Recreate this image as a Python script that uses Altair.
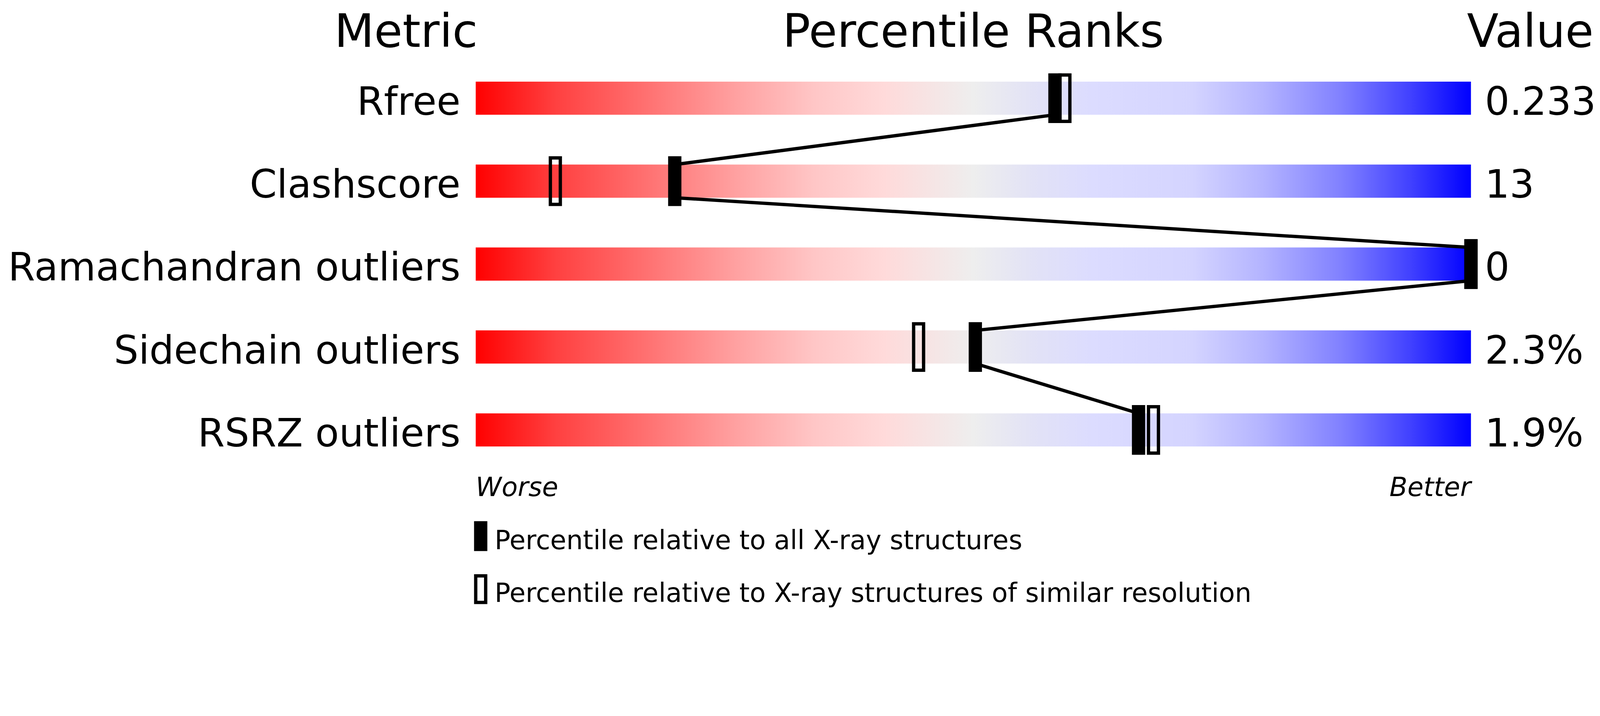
import altair as alt
import pandas as pd

# ---- data ----
metrics = ["Rfree", "Clashscore", "Ramachandran outliers", "Sidechain outliers", "RSRZ outliers"]
value_labels = ["0.233", "13", "0", "2.3%", "1.9%"]
pct_all = [58.2, 20.0, 100.0, 50.2, 66.6]        # percentile vs all X-ray structures (filled)
pct_similar = [59.2, 8.0, 100.0, 44.5, 68.1]     # percentile vs similar resolution (hollow)
headers = ["Metric", "Percentile Ranks", "Value"]
scale_ends = ["Worse", "Better"]
legend_labels = [
    "Percentile relative to all X-ray structures",
    "Percentile relative to X-ray structures of similar resolution",
]

# ---- layout ----
# the browser viewport is 4096 css px wide; everything is laid out in
# reference-image pixels and scaled by S so the page matches the reference.
S = 4096.0 / 4823.0
W, H = 4080, 1800
MARGIN = 8.0
BAR_X0 = 1434.0       # reference px of 0th percentile
PX_PER_PCT = 30.0     # reference px per percentile
ROW_Y0 = 296.0        # reference px of first row centre
ROW_STEP = 250.0      # reference px between rows
FONT = "DejaVu Sans"

xs = alt.Scale(domain=[(MARGIN / S - BAR_X0) / PX_PER_PCT, ((W + MARGIN) / S - BAR_X0) / PX_PER_PCT],
               range=[0, W], nice=False, zero=False)
ys = alt.Scale(domain=[(MARGIN / S - ROW_Y0) / ROW_STEP, ((H + MARGIN) / S - ROW_Y0) / ROW_STEP],
               range=[0, H], nice=False, zero=False)

LINE_W = 10 * S

rows = pd.DataFrame({
    "metric": metrics,
    "value": value_labels,
    "row": list(range(len(metrics))),
    "pall": pct_all,
    "psim": pct_similar,
})

segs = pd.DataFrame({
    "xa": pct_all[:-1],
    "xb": pct_all[1:],
    "ra": list(range(len(metrics) - 1)),
    "rb": list(range(1, len(metrics))),
})

gradient = alt.Gradient(
    gradient="linear",
    stops=[
        alt.GradientStop(color="#ff0000", offset=0.0),
        alt.GradientStop(color="#ff4040", offset=0.08),
        alt.GradientStop(color="#ff7070", offset=0.17),
        alt.GradientStop(color="#ffa0a0", offset=0.26),
        alt.GradientStop(color="#ffc6c6", offset=0.34),
        alt.GradientStop(color="#ffdada", offset=0.41),
        alt.GradientStop(color="#eeeeee", offset=0.5),
        alt.GradientStop(color="#e2e2f6", offset=0.56),
        alt.GradientStop(color="#dcdcff", offset=0.62),
        alt.GradientStop(color="#d4d4ff", offset=0.72),
        alt.GradientStop(color="#b4b4ff", offset=0.79),
        alt.GradientStop(color="#8080ff", offset=0.87),
        alt.GradientStop(color="#4040ff", offset=0.94),
        alt.GradientStop(color="#0000ff", offset=1.0),
    ],
    x1=0, x2=1, y1=0, y2=0,
)

bars = alt.Chart(rows).transform_calculate(
    lo="0", hi="100", top="datum.row - 0.2", bot="datum.row + 0.2"
).mark_rect(fill=gradient).encode(
    x=alt.X("lo:Q", scale=xs, axis=None),
    x2="hi:Q",
    y=alt.Y("top:Q", scale=ys, axis=None),
    y2="bot:Q",
)

links = alt.Chart(segs).transform_calculate(
    ya="datum.ra + 0.2", yb="datum.rb - 0.2"
).mark_rule(color="black", strokeWidth=LINE_W, strokeCap="butt").encode(
    x=alt.X("xa:Q", scale=xs, axis=None),
    x2="xb:Q",
    y=alt.Y("ya:Q", scale=ys, axis=None),
    y2="yb:Q",
)

hollow = alt.Chart(rows).transform_calculate(
    l="datum.psim - 0.5", r="datum.psim + 0.5",
    t="datum.row - 0.28", b="datum.row + 0.28"
).mark_rect(fillOpacity=0, stroke="black", strokeWidth=LINE_W).encode(
    x=alt.X("l:Q", scale=xs, axis=None), x2="r:Q",
    y=alt.Y("t:Q", scale=ys, axis=None), y2="b:Q",
)

filled = alt.Chart(rows).transform_calculate(
    l="datum.pall - 0.6667", r="datum.pall + 0.6667",
    t="datum.row - 0.3", b="datum.row + 0.3"
).mark_rect(color="black").encode(
    x=alt.X("l:Q", scale=xs, axis=None), x2="r:Q",
    y=alt.Y("t:Q", scale=ys, axis=None), y2="b:Q",
)

row_labels = alt.Chart(rows).transform_calculate(
    x="-1.533", y="datum.row + 0.2"
).mark_text(align="right", baseline="alphabetic", font=FONT, fontSize=117 * S, color="black").encode(
    x=alt.X("x:Q", scale=xs, axis=None),
    y=alt.Y("y:Q", scale=ys, axis=None),
    text="metric:N",
)

val_labels = alt.Chart(rows).transform_calculate(
    x="101.4", y="datum.row + 0.2"
).mark_text(align="left", baseline="alphabetic", font=FONT, fontSize=117 * S, color="black").encode(
    x=alt.X("x:Q", scale=xs, axis=None),
    y=alt.Y("y:Q", scale=ys, axis=None),
    text="value:N",
)


def text_layer(df, align, size, style="normal"):
    return alt.Chart(df).mark_text(
        align=align, baseline="alphabetic", font=FONT, fontSize=size * S,
        fontStyle=style, color="black"
    ).encode(
        x=alt.X("x:Q", scale=xs, axis=None),
        y=alt.Y("y:Q", scale=ys, axis=None),
        text="text:N",
    )


hdr = pd.DataFrame({"text": headers, "x": [0.2, 50.0, 99.6], "y": [-0.62] * 3})
hdr_metric = text_layer(hdr.iloc[[0]], "right", 139)
hdr_pct = text_layer(hdr.iloc[[1]], "center", 139)
hdr_val = text_layer(hdr.iloc[[2]], "left", 139)

ends = pd.DataFrame({"text": scale_ends, "x": [0.0, 100.0], "y": [4.796, 4.796]})
worse = text_layer(ends.iloc[[0]], "left", 79, "italic")
better = text_layer(ends.iloc[[1]], "right", 79, "italic")

leg_txt = pd.DataFrame({"text": legend_labels, "x": [1.9, 1.9], "y": [5.44, 6.076]})
legend_text = text_layer(leg_txt, "left", 79)

leg_filled = alt.Chart(pd.DataFrame({"l": [-0.1667], "r": [1.1667], "t": [5.1], "b": [5.46]})).mark_rect(
    color="black"
).encode(
    x=alt.X("l:Q", scale=xs, axis=None), x2="r:Q",
    y=alt.Y("t:Q", scale=ys, axis=None), y2="b:Q",
)
leg_hollow = alt.Chart(pd.DataFrame({"l": [0.0], "r": [1.0], "t": [5.76], "b": [6.08]})).mark_rect(
    fillOpacity=0, stroke="black", strokeWidth=LINE_W
).encode(
    x=alt.X("l:Q", scale=xs, axis=None), x2="r:Q",
    y=alt.Y("t:Q", scale=ys, axis=None), y2="b:Q",
)

chart = alt.layer(
    bars, links, hollow, filled,
    row_labels, val_labels,
    hdr_metric, hdr_pct, hdr_val,
    worse, better,
    leg_filled, leg_hollow, legend_text,
).properties(
    width=W, height=H,
    autosize=alt.AutoSizeParams(type="none"),
    padding=0,
    background="white",
).configure_view(strokeWidth=0)

chart.save("out.html", embed_options={"renderer": "svg", "actions": False})
